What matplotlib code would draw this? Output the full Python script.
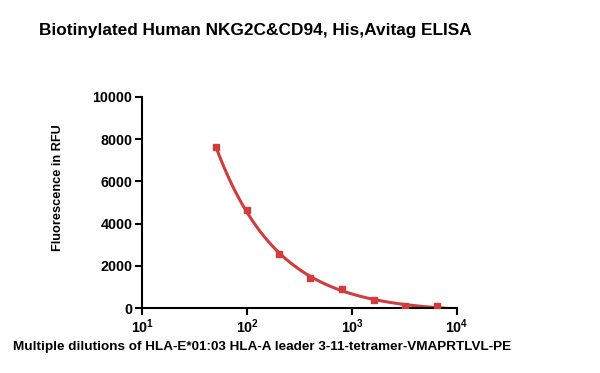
import numpy as np
import matplotlib
matplotlib.use("Agg")
import matplotlib.pyplot as plt
from matplotlib.ticker import NullLocator, FixedLocator

plt.rcParams['font.family'] = ['Liberation Sans', 'DejaVu Sans']

dilutions = [50, 100, 200, 400, 800, 1600, 3200, 6400]
rfu = [7640, 4640, 2540, 1440, 910, 370, 110, 95]

title = "Biotinylated Human NKG2C&CD94, His,Avitag ELISA"
xlabel = "Multiple dilutions of HLA-E*01:03 HLA-A leader 3-11-tetramer-VMAPRTLVL-PE"
ylabel = "Fluorescence in RFU"
color = "#d23c3c"

# smooth fitted curve: y = A*x^-B + C (least squares over B grid)
x = np.array(dilutions, float)
y = np.array(rfu, float)
best = None
for B in np.linspace(0.2, 3, 600):
    M = np.vstack([x ** -B, np.ones_like(x)]).T
    coef, res, *_ = np.linalg.lstsq(M, y, rcond=None)
    err = np.sum((M @ coef - y) ** 2)
    if best is None or err < best[0]:
        best = (err, B, coef)
_, B, (A, C) = best
xf = np.logspace(np.log10(50), 4, 300)
yf = A * xf ** -B + C

fig = plt.figure(figsize=(6, 3.73), dpi=100)
ax = fig.add_axes([0.237, 0.174, 0.525, 0.566])
ax.plot(xf, yf, color=color, lw=2.2, zorder=2)
ax.plot(x, y, 's', color=color, ms=5, zorder=3)
ax.set_xscale('log')
ax.set_xlim(10, 1e4)
ax.set_ylim(0, 10000)
ax.xaxis.set_major_locator(FixedLocator([10, 100, 1000, 10000]))
ax.xaxis.set_minor_locator(NullLocator())
ax.set_yticks([0, 2000, 4000, 6000, 8000, 10000])
for s in ['top', 'right']:
    ax.spines[s].set_visible(False)
for s in ['left', 'bottom']:
    ax.spines[s].set_linewidth(1.5)
ax.tick_params(width=1.5, length=5, labelsize=10.3, pad=2)
for lab in ax.get_xticklabels() + ax.get_yticklabels():
    lab.set_fontweight('bold')
fig.text(0.437, 1 - 347 / 373, xlabel, ha='center', va='center', fontsize=9.7, fontweight='bold')
fig.text(58 / 600, 1 - 188 / 373, ylabel, ha='center', va='center', rotation=90,
         fontsize=9.2, fontweight='bold')
fig.text(0.425, 1 - 30 / 373, title, ha='center', va='center', fontsize=12.4, fontweight='bold')
fig.savefig("out.png", dpi=100)
